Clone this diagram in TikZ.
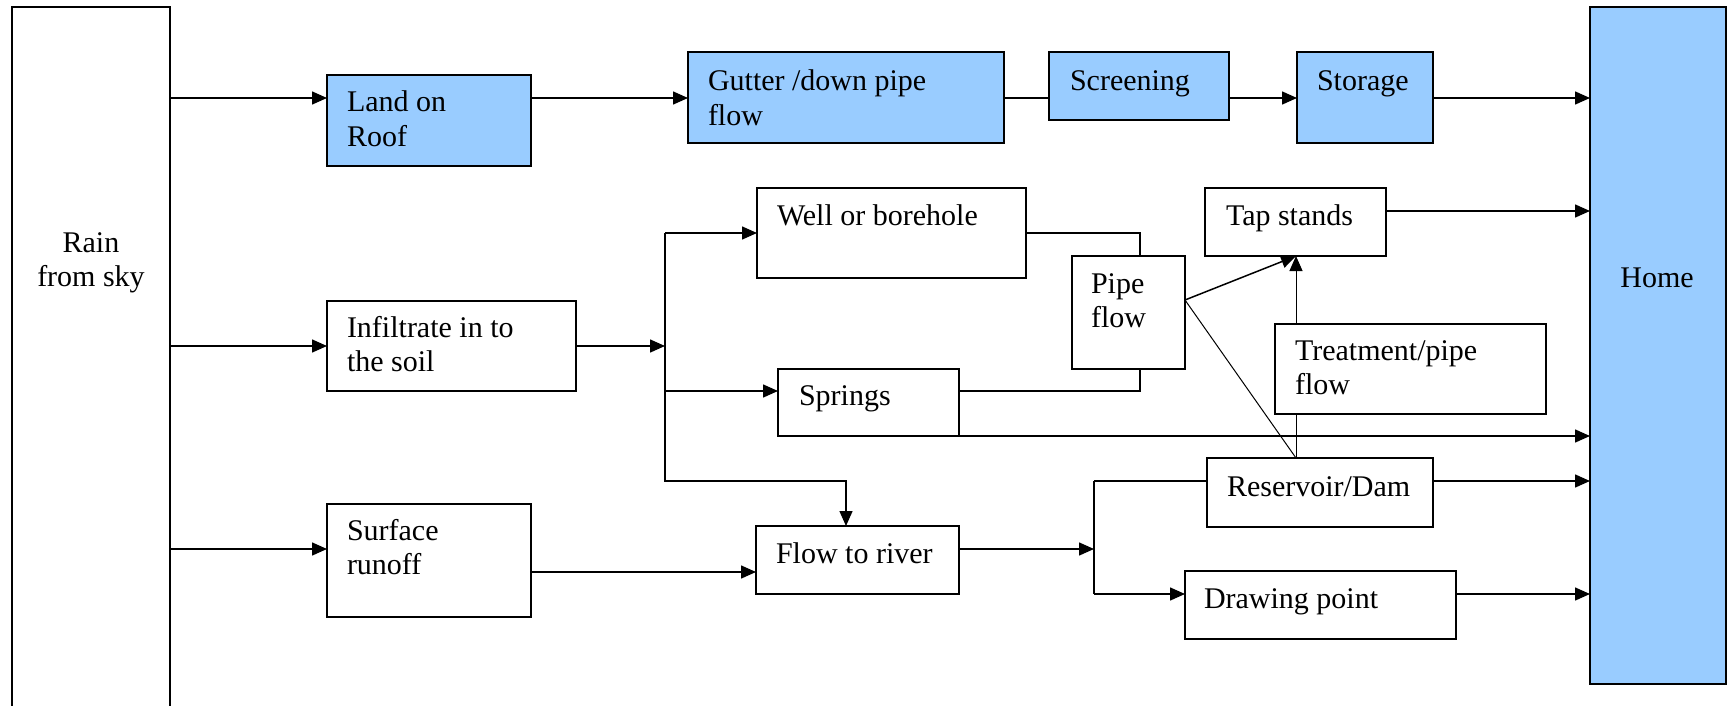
\documentclass[tikz,border=0pt]{standalone}
\usepackage{fontspec}
\setmainfont{Liberation Serif}
\usetikzlibrary{arrows.meta}
\definecolor{boxblue}{HTML}{99CCFF}
\begin{document}
\begin{tikzpicture}[x=1pt,y=-1pt,
  box/.style={draw=black, line width=1.6pt, fill=white, anchor=north west, inner sep=0pt, outer sep=0pt},
  bluebox/.style={box, fill=boxblue},
  txt/.style={font=\fontsize{30}{34.5}\selectfont, inner sep=0pt, outer sep=0pt, align=left, anchor=north west},
  conn/.style={line width=1.5pt},
  arr/.style={conn, -{Triangle[length=15pt,width=13pt]}},
  thinline/.style={line width=1pt}
]
\useasboundingbox (0,0) rectangle (1733,706);
\clip (0,0) rectangle (1733,706);

% boxes
\node[box, minimum width=158pt, minimum height=733pt] (rain) at (12,7) {};
\node[bluebox, minimum width=204pt, minimum height=91pt] (land) at (327,75) {};
\node[bluebox, minimum width=316pt, minimum height=91pt] (gutter) at (688,52) {};
\node[bluebox, minimum width=180pt, minimum height=68pt] (screen) at (1049,52) {};
\node[bluebox, minimum width=136pt, minimum height=91pt] (storage) at (1297,52) {};
\node[bluebox, minimum width=136pt, minimum height=677pt] (home) at (1590,7) {};
\node[box, minimum width=269pt, minimum height=90pt] (well) at (757,188) {};
\node[box, minimum width=181pt, minimum height=68pt] (tap) at (1205,188) {};
\node[box, minimum width=113pt, minimum height=113pt] (pipe) at (1072,256) {};
\node[box, minimum width=181pt, minimum height=67pt] (springs) at (778,369) {};
\node[box, minimum width=271pt, minimum height=90pt] (treat) at (1275,324) {};
\node[box, minimum width=249pt, minimum height=90pt] (infil) at (327,301) {};
\node[box, minimum width=204pt, minimum height=113pt] (surface) at (327,504) {};
\node[box, minimum width=203pt, minimum height=68pt] (flow) at (756,526) {};
\node[box, minimum width=226pt, minimum height=69pt] (res) at (1207,458) {};
\node[box, minimum width=271pt, minimum height=68pt] (drawpt) at (1185,571) {};

% texts
\node[txt, align=center, anchor=north] (t-rain) at (91,227.85) {\strut Rain\\from sky};
\node[txt, anchor=base] (t-home) at (1657,287) {Home};
\node[txt] (t-land) at (347,87.85) {\strut Land on\\Roof};
\node[txt] (t-gutter) at (708,66.85) {\strut Gutter /down pipe\\flow};
\node[txt] (t-screen) at (1070,66.85) {\strut Screening};
\node[txt] (t-storage) at (1317,66.85) {\strut Storage};
\node[txt] (t-well) at (777,200.85) {\strut Well or borehole};
\node[txt] (t-tap) at (1226,200.85) {\strut Tap stands};
\node[txt] (t-pipe) at (1091,268.85) {\strut Pipe\\flow};
\node[txt] (t-springs) at (799,380.85) {\strut Springs};
\node[txt] (t-treat) at (1295,335.85) {\strut Treatment/pipe\\flow};
\node[txt] (t-infil) at (347,312.85) {\strut Infiltrate in to\\the soil};
\node[txt] (t-surface) at (347,515.85) {\strut Surface\\runoff};
\node[txt] (t-flow) at (776,538.85) {\strut Flow to river};
\node[txt] (t-res) at (1227,471.85) {\strut Reservoir/Dam};
\node[txt] (t-drawpt) at (1204,583.85) {\strut Drawing point};

% levels
\coordinate (yA) at (0,98);
\coordinate (yB) at (0,346);
\coordinate (yC) at (0,549);
\coordinate (yD) at (0,572);
\coordinate (yT) at (0,211);
\coordinate (yP) at (0,300);

% top row
\draw[arr] (rain.east |- yA) -- (land.west |- yA);
\draw[arr] (land.east |- yA) -- (gutter.west |- yA);
\draw[conn] (gutter.east |- yA) -- (screen.west |- yA);
\draw[arr] (screen.east |- yA) -- (storage.west |- yA);
\draw[arr] (storage.east |- yA) -- (home.west |- yA);

% infiltration branch
\coordinate (s1) at (665,346);
\coordinate (s1top) at (665,233);
\coordinate (s1mid) at (665,391);
\coordinate (s1bot) at (665,481);
\coordinate (fl) at (846,481);
\draw[arr] (rain.east |- yB) -- (infil.west |- yB);
\draw[arr] (infil.east |- yB) -- (s1);
\draw[arr] (s1top) -- (s1bot) -- (fl) -- (fl |- flow.north);
\draw[arr] (s1top) -- (well.west |- s1top);
\draw[arr] (s1mid) -- (springs.west |- s1mid);

% pipe flow joins
\coordinate (pj) at (1140,0);
\draw[conn] (well.east |- s1top) -- (pj |- s1top) -- (pj |- pipe.north);
\draw[conn] (springs.east |- s1mid) -- (pj |- s1mid) -- (pj |- pipe.south);
\draw[arr] (springs.south west) -- (home.west |- springs.south west);

% tap stands
\coordinate (tx) at (1296,0);
\draw[arr] (pipe.east |- yP) -- (tx |- tap.south);
\draw[thinline] (pipe.east |- yP) -- (tx |- res.north);
\draw[thinline] (tx |- res.north) -- (tx |- treat.south);
\draw[arr, thinline] (tx |- treat.north) -- (tx |- tap.south);
\draw[arr] (tap.east |- yT) -- (home.west |- yT);

% surface runoff branch
\coordinate (s2) at (1094,549);
\coordinate (s2top) at (1094,481);
\coordinate (s2bot) at (1094,594);
\draw[arr] (rain.east |- yC) -- (surface.west |- yC);
\draw[arr] (surface.east |- yD) -- (flow.west |- yD);
\draw[arr] (flow.east |- yC) -- (s2);
\draw[conn] (s2top) -- (s2bot);
\draw[conn] (s2top) -- (res.west |- s2top);
\draw[arr] (s2bot) -- (drawpt.west |- s2bot);
\draw[arr] (res.east |- s2top) -- (home.west |- s2top);
\draw[arr] (drawpt.east |- s2bot) -- (home.west |- s2bot);
\end{tikzpicture}
\end{document}
